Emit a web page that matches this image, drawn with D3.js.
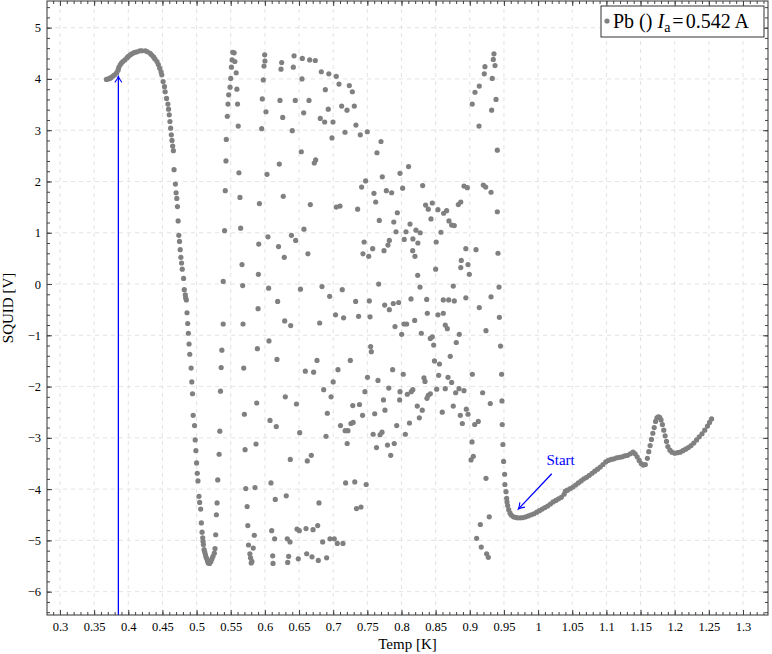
<!DOCTYPE html>
<html>
<head>
<meta charset="utf-8">
<script src="https://cdn.jsdelivr.net/npm/d3@7"></script>
<style>
  body { margin: 0; background: #fff; }
  svg text { font-family: "Liberation Serif", "Times New Roman", serif; fill: #000; }
</style>
</head>
<body>
<div id="chart"></div>
<script>
// ---- data: [Temp K, SQUID V] ----
const coolBranch = [
  [0.368,3.99],[0.371,4.00],[0.373,4.01],[0.375,4.03],[0.378,4.06],[0.380,4.08],[0.383,4.12],[0.385,4.17],
  [0.386,4.22],[0.388,4.27],[0.390,4.31],[0.392,4.34],[0.395,4.37],[0.398,4.41],[0.400,4.44],[0.403,4.47],
  [0.405,4.49],[0.408,4.51],[0.410,4.52],[0.413,4.53],[0.417,4.55],[0.420,4.55],[0.425,4.55],[0.428,4.53],
  [0.432,4.50],[0.434,4.47],[0.437,4.43],[0.439,4.39],[0.442,4.34],[0.444,4.28],[0.446,4.21],[0.448,4.14],
  [0.449,4.08],[0.451,3.95],[0.453,3.85],[0.454,3.75],[0.456,3.62],[0.458,3.51],[0.459,3.41],[0.460,3.30],
  [0.461,3.17],[0.462,3.04],[0.463,2.91],[0.464,2.80],[0.465,2.69],[0.466,2.60],[0.467,2.23],[0.469,1.95],
  [0.470,1.78],[0.471,1.67],[0.472,1.51],[0.473,1.23],[0.474,0.95],[0.475,0.83],[0.476,0.67],[0.477,0.52],
  [0.478,0.41],[0.479,0.29],[0.481,0.11],[0.482,-0.11],[0.4835,-0.21],[0.484,-0.27],[0.485,-0.31],[0.486,-0.56],
  [0.487,-0.77],[0.488,-0.96],[0.489,-1.17],[0.490,-1.37],[0.492,-1.64],[0.493,-1.91],[0.494,-2.14],[0.495,-2.56],
  [0.497,-2.76],[0.498,-3.04],[0.499,-3.25],[0.500,-3.49],[0.501,-3.69],[0.502,-3.84],[0.5035,-4.14],[0.5045,-4.26],
  [0.506,-4.39],[0.507,-4.66],[0.508,-4.84],[0.509,-4.95],[0.5095,-5.02],[0.510,-5.08],[0.511,-5.18],[0.512,-5.23],
  [0.513,-5.28],[0.514,-5.33],[0.515,-5.36],[0.516,-5.40],[0.517,-5.44],[0.519,-5.45],[0.521,-5.41],[0.5225,-5.36],
  [0.524,-5.31],[0.526,-5.25],[0.527,-5.16]
];

const riseColumns = [
  [0.528,-4.89],[0.529,-4.50],[0.530,-4.27],[0.531,-3.82],[0.533,-3.32],[0.534,-2.87],[0.535,-2.09],[0.536,-1.63],
  [0.537,-1.29],[0.539,-0.78],[0.539,0.05],[0.541,1.04],[0.542,1.82],[0.543,2.40],[0.5435,2.82],[0.545,3.27],
  [0.546,3.51],[0.547,3.69],[0.549,3.84],[0.550,4.01],[0.551,4.23],[0.552,4.37],[0.553,4.52],[0.555,4.51],
  [0.556,4.34],[0.558,4.12],[0.559,3.80],[0.560,3.51],[0.561,3.08],[0.562,2.17],[0.5635,1.69],[0.5645,1.09],
  [0.5665,0.38],[0.5675,-0.03],[0.568,-0.78],[0.569,-1.64],[0.570,-2.54],[0.571,-3.23],[0.572,-3.99],[0.574,-4.34],
  [0.575,-4.71],[0.576,-5.09],[0.578,-5.26],[0.579,-5.34],[0.580,-5.44],[0.581,-5.41],[0.583,-5.15],[0.5845,-4.90],
  [0.5855,-3.97],[0.587,-3.12],[0.588,-2.32],[0.589,-1.26],[0.590,-0.48],[0.5905,0.19],[0.591,0.78],[0.592,1.57]
];

const midUpper = [
  [0.5997,4.47],[0.6001,4.35],[0.5987,4.25],[0.5977,3.98],[0.5962,3.61],[0.6016,3.36],[0.5953,3.03],[0.6031,2.14],
  [0.6045,0.92],[0.6055,-0.08],[0.6246,4.32],[0.6236,4.19],[0.6427,4.45],[0.6416,4.23],[0.6548,4.40],[0.6656,4.37],
  [0.6738,4.36],[0.6543,4.00],[0.6826,4.14],[0.6936,4.10],[0.7045,4.05],[0.7085,3.90],[0.7236,3.87],[0.728,3.75],
  [0.6885,3.79],[0.6221,3.58],[0.6445,3.58],[0.6646,3.58],[0.6261,3.25],[0.6568,3.34],[0.6928,3.41],[0.7124,3.47],
  [0.7202,3.39],[0.7309,3.47],[0.6811,3.23],[0.6875,3.16],[0.6997,3.16],[0.7333,3.10],[0.6401,2.99],[0.7173,2.96],
  [0.7397,2.91],[0.7499,2.97],[0.6982,2.85],[0.770,2.78],[0.7641,2.56],[0.6533,2.58],[0.6211,2.34],[0.6743,2.42],
  [0.6723,2.36],[0.8104,2.29],[0.7978,2.16],[0.7719,2.09],[0.7475,2.01],[0.7416,1.89],[0.8017,1.87],[0.831,1.92],
  [0.7778,1.82],[0.7856,1.78],[0.7597,1.77],[0.6269,1.71],[0.7622,1.60],[0.6665,1.55],[0.7045,1.50],[0.710,1.52],
  [0.7358,1.46],[0.8353,1.54],[0.8451,1.58],[0.8392,1.46],[0.8534,1.45],[0.8617,1.38],[0.8661,1.43],[0.8432,1.27],
  [0.8695,1.23],[0.7939,1.39],[0.7675,1.24],[0.7887,1.21],[0.8125,1.17],[0.6572,1.07],[0.792,1.02],[0.8066,1.02],
  [0.8212,1.05],[0.8274,1.00],[0.8578,1.01],[0.6389,0.95],[0.6451,0.85],[0.7822,0.85],[0.804,0.87],[0.8167,0.88],
  [0.824,0.80],[0.8508,0.82],[0.7453,0.82],[0.7802,0.76],[0.620,0.73],[0.7578,0.69],[0.7744,0.65],[0.8164,0.65],
  [0.7436,0.59],[0.752,0.54],[0.6284,0.52],[0.663,0.59],[0.8197,0.54],[0.850,0.29],[0.8237,0.17],[0.7666,0.00],
  [0.6521,-0.10],[0.6836,-0.05],[0.7133,-0.11],[0.6948,-0.24],[0.8271,-0.06]
];

const midLower = [
  [0.6187,-0.34],[0.7329,-0.34],[0.7529,-0.33],[0.7754,-0.41],[0.7822,-0.50],[0.788,-0.38],[0.7959,-0.36],[0.8139,-0.29],
  [0.8369,-0.30],[0.8612,-0.31],[0.8691,-0.31],[0.8378,-0.57],[0.8534,-0.60],[0.8612,-0.57],[0.7035,-0.60],[0.7152,-0.66],
  [0.7372,-0.63],[0.7539,-0.64],[0.629,-0.72],[0.6378,-0.81],[0.6802,-0.76],[0.7905,-0.83],[0.8037,-0.78],[0.8076,-0.78],
  [0.8193,-0.71],[0.8641,-0.80],[0.8003,-0.98],[0.829,-0.96],[0.8422,-1.06],[0.8451,-1.03],[0.8471,-1.19],[0.606,-1.11],
  [0.7548,-1.22],[0.7558,-1.32],[0.6177,-1.47],[0.6763,-1.49],[0.7251,-1.49],[0.8483,-1.50],[0.8556,-1.56],[0.6592,-1.70],
  [0.6714,-1.72],[0.707,-1.67],[0.787,-1.67],[0.8026,-1.76],[0.700,-1.91],[0.7502,-1.82],[0.7656,-1.88],[0.8329,-1.83],
  [0.8344,-1.90],[0.8544,-1.78],[0.6861,-2.06],[0.7814,-2.03],[0.8166,-2.06],[0.8143,-2.10],[0.8085,-2.15],[0.7978,-2.10],
  [0.7465,-2.10],[0.8422,-2.14],[0.8392,-2.17],[0.8373,-2.23],[0.8515,-2.05],[0.8641,-2.04],[0.6299,-2.20],[0.6969,-2.20],
  [0.6462,-2.34],[0.7287,-2.37],[0.7385,-2.35],[0.7736,-2.26],[0.7973,-2.26],[0.8231,-2.38],[0.8304,-2.46],[0.8597,-2.50],
  [0.6914,-2.52],[0.743,-2.56],[0.7608,-2.53],[0.7758,-2.46],[0.8261,-2.61],[0.6075,-2.66],[0.6167,-2.78],[0.7107,-2.76],
  [0.726,-2.72],[0.7292,-2.70],[0.7175,-2.86],[0.7216,-2.86],[0.651,-2.90],[0.6895,-2.97],[0.7585,-2.93],[0.7686,-2.94],
  [0.7715,-2.89],[0.793,-2.76],[0.8117,-2.71],[0.8056,-2.93],[0.7205,-3.11],[0.7634,-3.19],[0.7795,-3.14],[0.7894,-3.11],
  [0.7842,-3.34],[0.668,-3.34],[0.6621,-3.45],[0.6372,-3.42],[0.6089,-3.88],[0.7182,-3.88],[0.7316,-3.86],[0.7483,-3.91],
  [0.6152,-4.20],[0.6313,-4.13],[0.6792,-4.27],[0.7341,-4.38],[0.7407,-4.35],[0.610,-4.81],[0.6143,-4.97],[0.6328,-4.97],
  [0.6368,-5.03],[0.647,-4.78],[0.6504,-4.81],[0.6602,-4.77],[0.6705,-4.79],[0.6773,-4.71],[0.6846,-5.03],[0.6953,-4.97],
  [0.7016,-4.97],[0.706,-5.06],[0.7143,-5.06],[0.6114,-5.30],[0.6119,-5.45],[0.6348,-5.31],[0.6334,-5.43],[0.6489,-5.36],
  [0.6612,-5.26],[0.669,-5.32],[0.6782,-5.39],[0.6904,-5.34]
];

const rightColumns = [
  [0.9354,4.49],[0.9344,4.38],[0.9369,4.26],[0.9222,4.24],[0.9212,4.10],[0.9329,4.01],[0.9139,3.86],[0.9076,3.74],
  [0.9036,3.51],[0.9384,3.60],[0.932,3.39],[0.9135,3.08],[0.9403,2.61],[0.9198,1.93],[0.9233,1.89],[0.9311,1.79],
  [0.9403,1.41],[0.8915,1.91],[0.8964,1.88],[0.8832,1.55],[0.8868,1.60],[0.8734,1.15],[0.8773,1.14],[0.8942,0.69],
  [0.9091,0.67],[0.8875,0.46],[0.8974,0.38],[0.8868,0.32],[0.8993,0.19],[0.9413,0.60],[0.8758,-0.04],[0.8773,-0.33],
  [0.8942,-0.27],[0.9428,-0.06],[0.9311,-0.25],[0.9139,-0.46],[0.9433,-0.65],[0.8671,-0.87],[0.8846,-0.98],[0.9237,-0.91],
  [0.8802,-1.14],[0.945,-1.21],[0.8714,-1.41],[0.9037,-1.76],[0.9466,-1.76],[0.8681,-1.82],[0.8734,-1.92],[0.8793,-2.12],
  [0.8842,-2.04],[0.8915,-2.08],[0.9188,-2.12],[0.930,-2.33],[0.9471,-2.28],[0.8758,-2.38],[0.8861,-2.56],[0.8891,-2.72],
  [0.8949,-2.44],[0.8974,-2.54],[0.9072,-2.74],[0.9124,-2.68],[0.9475,-2.74],[0.9033,-3.08],[0.9485,-3.13],[0.9052,-3.36],
  [0.9018,-3.43],[0.9495,-3.46],[0.951,-3.71],[0.9514,-3.91],[0.9237,-3.79],[0.953,-4.05],[0.954,-4.18],[0.9285,-4.54],
  [0.9154,-4.69],[0.910,-4.96],[0.9168,-5.13],[0.9247,-5.26],[0.9271,-5.33]
];

const warmBranch = [
  [0.9545,-4.25],[0.9555,-4.32],[0.957,-4.40],[0.959,-4.47],[0.961,-4.51],[0.964,-4.54],[0.967,-4.55],[0.970,-4.56],
  [0.974,-4.56],[0.978,-4.555],[0.982,-4.54],[0.986,-4.52],[0.990,-4.50],[0.994,-4.48],[0.998,-4.45],[1.002,-4.42],
  [1.006,-4.39],[1.010,-4.36],[1.014,-4.33],[1.018,-4.29],[1.022,-4.25],[1.026,-4.22],[1.030,-4.19],[1.034,-4.16],
  [1.038,-4.10],[1.040,-4.04],[1.043,-4.02],[1.047,-3.99],[1.051,-3.96],[1.055,-3.92],[1.059,-3.88],[1.063,-3.84],
  [1.067,-3.80],[1.071,-3.77],[1.075,-3.73],[1.079,-3.69],[1.083,-3.65],[1.087,-3.61],[1.091,-3.57],[1.095,-3.52],
  [1.099,-3.47],[1.103,-3.44],[1.107,-3.42],[1.111,-3.41],[1.115,-3.39],[1.119,-3.38],[1.123,-3.37],[1.127,-3.35],
  [1.131,-3.34],[1.135,-3.31],[1.139,-3.28],[1.142,-3.31],[1.145,-3.37],[1.148,-3.44],[1.151,-3.50],[1.154,-3.53],
  [1.157,-3.52],[1.160,-3.40],[1.162,-3.27],[1.164,-3.15],[1.166,-3.03],[1.168,-2.91],[1.170,-2.80],[1.172,-2.68],
  [1.174,-2.61],[1.176,-2.59],[1.178,-2.60],[1.180,-2.65],[1.182,-2.74],[1.184,-2.85],[1.186,-2.96],[1.188,-3.07],
  [1.190,-3.17],[1.193,-3.24],[1.196,-3.28],[1.200,-3.30],[1.204,-3.29],[1.208,-3.28],[1.212,-3.25],[1.216,-3.22],
  [1.220,-3.19],[1.224,-3.15],[1.228,-3.10],[1.232,-3.04],[1.236,-2.98],[1.240,-2.92],[1.244,-2.85],[1.248,-2.77],
  [1.251,-2.70],[1.254,-2.63]
];

const xTicks = d3.range(0, 21).map(i => +(0.3 + i * 0.05).toFixed(2));
const yTicks = d3.range(-6, 6);
const xMinor = d3.range(29, 134).map(i => i / 100);
const yMinor = d3.range(-32, 28).map(i => +(i * 0.2).toFixed(1));

// annotations
const blueArrow = { from: [0.3855, -6.45], to: [0.3855, 4.05] };
const startArrow = { from: [1.020, -3.70], to: [0.971, -4.39], label: 'Start', at: [1.033, -3.52] };

// ---- layout ----
const margin = { top: 1, right: 4, bottom: 39, left: 47 };
const width = 772 - margin.left - margin.right;
const height = 654 - margin.top - margin.bottom;

const x = d3.scaleLinear().domain([0.281, 1.3366]).range([0, width]);
const y = d3.scaleLinear().domain([-6.455, 5.52]).range([height, 0]);

const svg = d3.select('#chart').append('svg')
    .attr('width', 772)
    .attr('height', 654);

const g = svg.append('g')
    .attr('transform', `translate(${margin.left},${margin.top})`);

// grid
const grid = g.append('g').attr('stroke', '#dcdcdc').attr('stroke-dasharray', '4,4').attr('stroke-width', 0.8);
grid.selectAll('.vg').data(xTicks).enter().append('line')
    .attr('x1', d => x(d)).attr('x2', d => x(d))
    .attr('y1', 0).attr('y2', height);
grid.selectAll('.hg').data(yTicks).enter().append('line')
    .attr('x1', 0).attr('x2', width)
    .attr('y1', d => y(d)).attr('y2', d => y(d));

// points
const allPoints = [].concat(coolBranch, riseColumns, midUpper, midLower, rightColumns, warmBranch);
g.selectAll('.dot')
    .data(allPoints)
    .enter()
    .append('circle')
    .attr('class', 'dot')
    .attr('cx', d => x(d[0]))
    .attr('cy', d => y(d[1]))
    .attr('r', 2.6)
    .attr('fill', '#808080');

// axes (pgfplots style: inward ticks on all four sides)
function styleAxis(sel) {
    sel.select('.domain').remove();
    sel.attr('color', '#444');
    sel.selectAll('text').style('font-size', '12.5px').attr('fill', '#000');
}

g.append('g').attr('transform', `translate(0,${height})`)
    .call(d3.axisBottom(x).tickValues(xMinor).tickSize(-3).tickFormat(''))
    .call(styleAxis);
g.append('g').attr('transform', `translate(0,${height})`)
    .call(d3.axisBottom(x).tickValues(xTicks).tickSize(-5).tickPadding(7).tickFormat(d3.format('')))
    .call(styleAxis);
g.append('g')
    .call(d3.axisTop(x).tickValues(xMinor).tickSize(-3).tickFormat(''))
    .call(styleAxis);
g.append('g')
    .call(d3.axisTop(x).tickValues(xTicks).tickSize(-5).tickFormat(''))
    .call(styleAxis);

g.append('g')
    .call(d3.axisLeft(y).tickValues(yMinor).tickSize(-3).tickFormat(''))
    .call(styleAxis);
g.append('g')
    .call(d3.axisLeft(y).tickValues(yTicks).tickSize(-5).tickPadding(6).tickFormat(d3.format('')))
    .call(styleAxis);
g.append('g').attr('transform', `translate(${width},0)`)
    .call(d3.axisRight(y).tickValues(yMinor).tickSize(-3).tickFormat(''))
    .call(styleAxis);
g.append('g').attr('transform', `translate(${width},0)`)
    .call(d3.axisRight(y).tickValues(yTicks).tickSize(-5).tickFormat(''))
    .call(styleAxis);

// frame
g.append('rect')
    .attr('x', 0).attr('y', 0)
    .attr('width', width).attr('height', height)
    .attr('fill', 'none')
    .attr('stroke', '#333')
    .attr('stroke-width', 1);

// axis labels
g.append('text')
    .attr('x', width / 2)
    .attr('y', height + 34)
    .attr('text-anchor', 'middle')
    .style('font-size', '15px')
    .text('Temp [K]');

g.append('text')
    .attr('transform', `translate(${-34},${height / 2}) rotate(-90)`)
    .attr('text-anchor', 'middle')
    .style('font-size', '15px')
    .text('SQUID [V]');

// arrows
svg.append('defs').append('marker')
    .attr('id', 'tip')
    .attr('viewBox', '-8 -5 10 10')
    .attr('refX', 0).attr('refY', 0)
    .attr('markerWidth', 10).attr('markerHeight', 10)
    .attr('markerUnits', 'userSpaceOnUse')
    .attr('orient', 'auto')
    .append('path')
    .attr('d', 'M-6,-3.5 Q-2.5,-0.8 0,0 Q-2.5,0.8 -6,3.5')
    .attr('fill', 'none')
    .attr('stroke', '#0000ff')
    .attr('stroke-width', 1.1);

[blueArrow, startArrow].forEach(a => {
    g.append('line')
        .attr('x1', x(a.from[0])).attr('y1', y(a.from[1]))
        .attr('x2', x(a.to[0])).attr('y2', y(a.to[1]))
        .attr('stroke', '#0000ff')
        .attr('stroke-width', 1.3)
        .attr('marker-end', 'url(#tip)');
});

g.append('text')
    .attr('x', x(startArrow.at[0]))
    .attr('y', y(startArrow.at[1]))
    .attr('text-anchor', 'middle')
    .style('font-size', '15px')
    .style('fill', '#0000ff')
    .text(startArrow.label);

// legend
const legend = g.append('g').attr('transform', `translate(${width - 167},5)`);
legend.append('rect')
    .attr('width', 163).attr('height', 31)
    .attr('fill', '#fff')
    .attr('stroke', '#333')
    .attr('stroke-width', 1);
legend.append('circle')
    .attr('cx', 6).attr('cy', 15)
    .attr('r', 2.6)
    .attr('fill', '#808080');
const lt = legend.append('text')
    .attr('x', 12).attr('y', 22)
    .style('font-size', '20px');
lt.append('tspan').text('Pb () ');
lt.append('tspan').style('font-style', 'italic').text('I');
lt.append('tspan').attr('dy', 4).style('font-size', '14px').text('a');
lt.append('tspan').attr('dy', -4).attr('dx', 2).text('=');
lt.append('tspan').attr('dx', 2).text('0.542 A');
</script>
</body>
</html>
